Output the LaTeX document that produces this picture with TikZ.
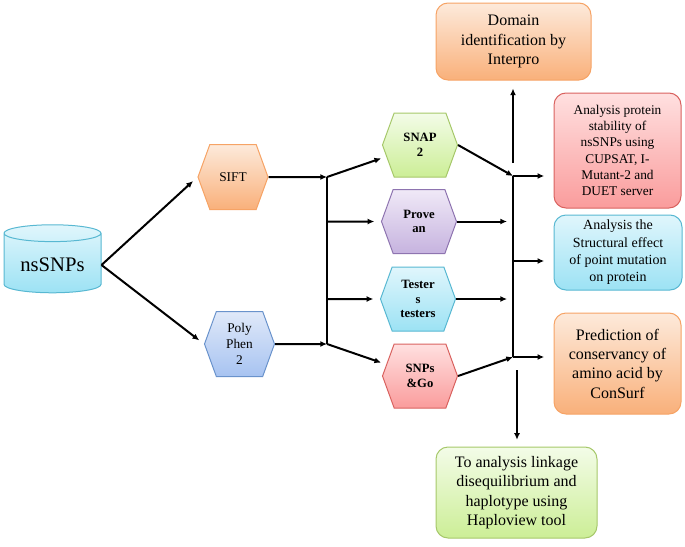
\documentclass[tikz,border=0pt]{standalone}
\usepackage{fontspec}
\setmainfont{Liberation Serif}
\usetikzlibrary{arrows.meta, shapes.geometric, shapes.symbols, calc}
\definecolor{orgline}{HTML}{F6A365}
\definecolor{orgtop}{HTML}{FDEADB}
\definecolor{orgbot}{HTML}{F9B07A}
\definecolor{redline}{HTML}{D9625F}
\definecolor{redtop}{HTML}{FFE0E0}
\definecolor{redbot}{HTML}{FA9C9C}
\definecolor{aquline}{HTML}{58B8D2}
\definecolor{aqutop}{HTML}{E0F6FC}
\definecolor{aqubot}{HTML}{9CE2F4}
\definecolor{grnline}{HTML}{A6C86A}
\definecolor{grntop}{HTML}{F3FCE8}
\definecolor{grnbot}{HTML}{CCEE96}
\definecolor{purline}{HTML}{8E74B0}
\definecolor{purtop}{HTML}{F0E9F7}
\definecolor{purbot}{HTML}{C6B3DF}
\definecolor{bluline}{HTML}{6A93CC}
\definecolor{blutop}{HTML}{E0E9F9}
\definecolor{blubot}{HTML}{A7C3F1}
\tikzset{
  orgcol/.style={draw=orgline, top color=orgtop, bottom color=orgbot},
  redcol/.style={draw=redline, top color=redtop, bottom color=redbot},
  aqucol/.style={draw=aquline, top color=aqutop, bottom color=aqubot},
  grncol/.style={draw=grnline, top color=grntop, bottom color=grnbot},
  purcol/.style={draw=purline, top color=purtop, bottom color=purbot},
  blucol/.style={draw=bluline, top color=blutop, bottom color=blubot},
  hexnode/.style={signal, signal to=east and west, signal pointer angle=140,
                  line width=0.75pt, inner sep=1pt, align=center,
                  font=\fontsize{10}{12}\selectfont,
                  minimum width=52.5pt, minimum height=48.75pt},
  midhex/.style={hexnode, minimum width=56.25pt, minimum height=48pt,
                 font=\fontsize{9.5}{11}\selectfont\bfseries},
  resbox/.style={rectangle, rounded corners=9pt, line width=0.75pt,
                 align=center, inner sep=2pt,
                 font=\fontsize{12}{14.5}\selectfont},
  flow/.style={-{Latex[length=5pt,width=4.5pt]}, line width=1.5pt},
  bus/.style={line width=1.5pt},
}
\begin{document}
\begin{tikzpicture}[x=0.75pt, y=-0.75pt]
\useasboundingbox (0,0) rectangle (685,546);
% source
\node[cylinder, shape border rotate=90, aspect=0.23, aqucol, line width=0.75pt,
      minimum width=72.75pt, minimum height=51pt,
      font=\fontsize{15.5}{18}\selectfont] (db) at (52.5,265) {nsSNPs};
% first tools
\node[hexnode, orgcol] (sift) at (233,177) {SIFT};
\node[hexnode, blucol] (poly) at (239.5,344) {Poly\\Phen\\2};
% second tools
\node[midhex, grncol] (snap) at (420,145) {SNAP\\2};
\node[midhex, purcol] (provean) at (419,221.5) {Prove\\an};
\node[midhex, aqucol] (testers) at (418,299) {Tester\\s\\testers};
\node[midhex, redcol] (snpsgo) at (420,376) {SNPs\\\&Go};
% analyses
\node[resbox, orgcol, minimum width=116.25pt, minimum height=57.75pt] (domain) at (513.5,41.5)
  {Domain\\identification by\\Interpro};
\node[resbox, redcol, minimum width=95.25pt, minimum height=86.25pt,
      font=\fontsize{10}{12.2}\selectfont] (stab) at (617.5,150.5)
  {Analysis protein\\stability of\\nsSNPs using\\CUPSAT, I-\\Mutant-2 and\\DUET server};
\node[resbox, aqucol, minimum width=96pt, minimum height=56.25pt,
      font=\fontsize{10.5}{13}\selectfont] (struct) at (618,252.5)
  {Analysis the\\Structural effect\\of point mutation\\on protein};
\node[resbox, orgcol, minimum width=95.25pt, minimum height=75.75pt] (cons) at (617.5,363.5)
  {Prediction of\\conservancy of\\amino acid by\\ConSurf};
\node[resbox, grncol, minimum width=120.75pt, minimum height=68.25pt] (haplo) at (516.5,492.5)
  {To analysis linkage\\disequilibrium and\\haplotype using\\Haploview tool};
% junctions
\coordinate (ja) at (327,177);
\coordinate (jb) at (327,344);
\coordinate (ka) at (513,176);
\coordinate (kb) at (513,357);
\coordinate (kc) at (513,261);
\coordinate (ku) at (513,163);
\coordinate (kd) at (517,370);
% connectors
\draw[flow, shorten >=4.5pt] (db.east) -- (sift.west);
\draw[flow, shorten >=4.5pt] (db.east) -- (poly.west);
\draw[flow] (sift) -- (ja);
\draw[flow] (poly) -- (jb);
\draw[bus] (ja) -- (jb);
\draw[flow, shorten >=4pt] (ja) -- (snap);
\draw[flow, shorten >=5pt] (provean -| ja) -- (provean);
\draw[flow, shorten >=5pt] (testers -| ja) -- (testers);
\draw[flow, shorten >=4pt] (jb) -- (snpsgo);
\draw[flow] (snap.east) -- (ka);
\draw[flow] (snpsgo.east) -- (kb);
\draw[flow, shorten >=4.5pt] (provean.east) -- (provean -| ka);
\draw[flow, shorten >=4.5pt] (testers.east) -- (testers -| ka);
\draw[bus] (ka) -- (kb);
\draw[flow, shorten >=7pt] (ka) -- (ka -| stab.west);
\draw[flow, shorten >=7pt] (kc) -- (kc -| struct.west);
\draw[flow, shorten >=7pt] (kb) -- (kb -| cons.west);
\draw[flow, shorten >=6pt] (ku) -- (ku |- domain.south);
\draw[flow, shorten >=5pt] (kd) -- (kd |- haplo.north);
\end{tikzpicture}
\end{document}
